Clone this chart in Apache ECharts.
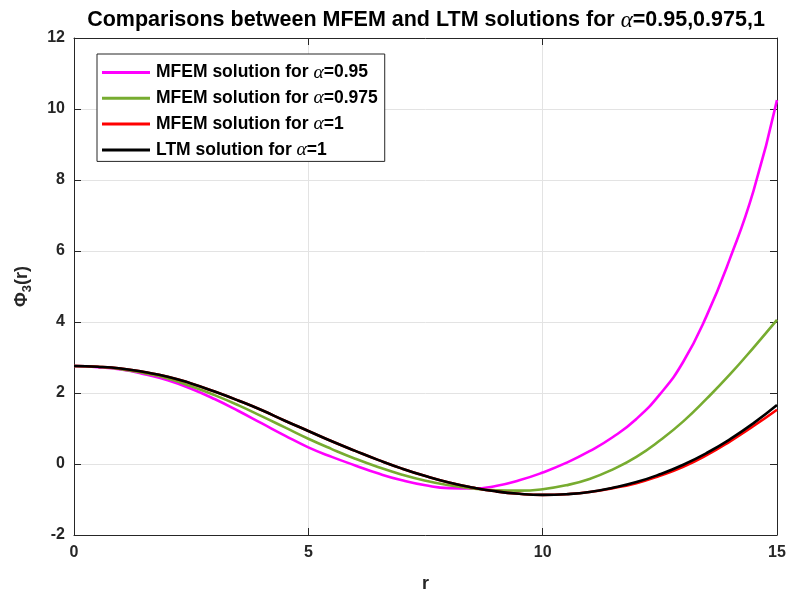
<!DOCTYPE html>
<html>
<head>
<meta charset="utf-8">
<script src="https://cdn.jsdelivr.net/npm/echarts@6/dist/echarts.min.js"></script>
<style>
  html, body { margin: 0; padding: 0; background: #ffffff; }
  #chart { width: 788px; height: 591px; }
</style>
</head>
<body>
<div id="chart"></div>
<script>
// Radial coordinate r
const r = [0, 0.5, 1, 1.5, 2, 2.5, 3, 3.5, 4, 4.5, 5, 5.5, 6, 6.5, 7, 7.5, 8, 8.5, 9, 9.5,
           10, 10.5, 11, 11.5, 12, 12.5, 13, 13.5, 14, 14.5, 15];

// Phi_3(r), MFEM, alpha = 0.95
const mfem095 = [2.76, 2.73, 2.66, 2.53, 2.36, 2.12, 1.83, 1.50, 1.15, 0.80, 0.47, 0.20, -0.04, -0.27, -0.46, -0.60,
                 -0.68, -0.69, -0.62, -0.46, -0.24, 0.03, 0.36, 0.76, 1.27, 1.96, 2.88, 4.18, 5.80, 7.70, 10.25];

// Phi_3(r), MFEM, alpha = 0.975
const mfem0975 = [2.76, 2.74, 2.67, 2.56, 2.41, 2.19, 1.94, 1.66, 1.35, 1.03, 0.71, 0.42, 0.15, -0.09, -0.30, -0.47,
                  -0.60, -0.69, -0.74, -0.75, -0.71, -0.60, -0.42, -0.15, 0.20, 0.66, 1.20, 1.84, 2.53, 3.28, 4.06];

// Phi_3(r), MFEM, alpha = 1
const mfem1 = [2.76, 2.74, 2.69, 2.59, 2.46, 2.27, 2.04, 1.79, 1.52, 1.22, 0.93, 0.64, 0.37, 0.11, -0.13, -0.34,
               -0.52, -0.66, -0.77, -0.84, -0.87, -0.85, -0.79, -0.68, -0.54, -0.33, -0.08, 0.25, 0.64, 1.07, 1.53];

// Phi_3(r), LTM, alpha = 1
const ltm1 = [2.76, 2.74, 2.69, 2.59, 2.46, 2.27, 2.04, 1.79, 1.52, 1.22, 0.93, 0.64, 0.37, 0.11, -0.13, -0.34,
              -0.52, -0.66, -0.77, -0.84, -0.87, -0.85, -0.79, -0.67, -0.51, -0.29, -0.02, 0.31, 0.70, 1.15, 1.66];

const seriesNames = [
  'MFEM solution for α=0.95',
  'MFEM solution for α=0.975',
  'MFEM solution for α=1',
  'LTM solution for α=1'
];
const seriesValues = [mfem095, mfem0975, mfem1, ltm1];
const seriesColors = ['#FF00FF', '#77AC30', '#FF0000', '#000000'];

const FONT = '"Liberation Sans", Arial, Helvetica, sans-serif';
const AXIS_COLOR = '#262626';
const alphaStyle = { fontFamily: '"Liberation Serif", "DejaVu Serif", serif', fontStyle: 'italic', fontWeight: 'normal' };

const chart = echarts.init(document.getElementById('chart'), null, { renderer: 'canvas' });

// Mirror axes on the top and right close the box, with inward ticks only
const boxAxisCommon = {
  axisLine: { show: true, onZero: false, lineStyle: { color: AXIS_COLOR, width: 1 } },
  axisTick: { show: true, inside: true, length: 7, lineStyle: { color: AXIS_COLOR, width: 1 } },
  axisLabel: { show: false },
  splitLine: { show: false }
};

chart.setOption({
  animation: false,
  backgroundColor: '#ffffff',
  title: {
    text: 'Comparisons between MFEM and LTM solutions for {a|α}=0.95,0.975,1',
    left: 421,
    textAlign: 'center',
    top: 4,
    textStyle: {
      fontFamily: FONT, fontWeight: 'bold', fontSize: 21.5, color: '#000000',
      rich: { a: Object.assign({ fontSize: 23, color: '#000000' }, alphaStyle) }
    }
  },
  legend: {
    orient: 'vertical',
    left: 97,
    top: 54,
    padding: [8.5, 7, 1.5, 5],
    itemGap: 5.8,
    itemWidth: 48,
    itemHeight: 3,
    icon: 'rect',
    borderColor: '#262626',
    borderWidth: 1,
    backgroundColor: '#ffffff',
    data: seriesNames,
    formatter: name => name.replace('α', '{a|α}'),
    textStyle: {
      fontFamily: FONT, fontWeight: 'bold', fontSize: 17.5, color: '#000000', lineHeight: 17,
      padding: [0, 0, 0, 1],
      rich: { a: Object.assign({ fontSize: 19.5, lineHeight: 17, color: '#000000' }, alphaStyle) }
    }
  },
  grid: { left: 74, right: 11, top: 38, bottom: 56, containLabel: false, outerBoundsMode: 'none' },
  xAxis: [
    {
      type: 'value', min: 0, max: 15, interval: 5,
      name: 'r', nameLocation: 'middle', nameGap: 40,
      nameTextStyle: { fontFamily: FONT, fontWeight: 'bold', fontSize: 18, color: '#262626' },
      axisLine: { show: true, onZero: false, lineStyle: { color: AXIS_COLOR, width: 1 } },
      axisTick: { show: true, inside: true, length: 7, lineStyle: { color: AXIS_COLOR } },
      axisLabel: { fontFamily: FONT, fontWeight: 'bold', fontSize: 16, color: '#262626', margin: 10 },
      splitLine: { show: true, lineStyle: { color: '#e3e3e3', width: 1 } }
    },
    Object.assign({ type: 'value', min: 0, max: 15, interval: 5, position: 'top' }, boxAxisCommon)
  ],
  yAxis: [
    {
      type: 'value', min: -2, max: 12, interval: 2,
      name: 'Φ{s|3}(r)', nameLocation: 'middle', nameGap: 40, nameRotate: 90,
      nameTextStyle: {
        fontFamily: FONT, fontWeight: 'bold', fontSize: 18, color: '#262626',
        rich: { s: { fontFamily: FONT, fontWeight: 'bold', fontSize: 13, color: '#262626', padding: [10, 0, 0, 0] } }
      },
      axisLine: { show: true, onZero: false, lineStyle: { color: AXIS_COLOR, width: 1 } },
      axisTick: { show: true, inside: true, length: 7, lineStyle: { color: AXIS_COLOR } },
      axisLabel: { fontFamily: FONT, fontWeight: 'bold', fontSize: 16, color: '#262626', margin: 9 },
      splitLine: { show: true, lineStyle: { color: '#e3e3e3', width: 1 } }
    },
    Object.assign({ type: 'value', min: -2, max: 12, interval: 2, position: 'right' }, boxAxisCommon)
  ],
  series: seriesNames.map((name, i) => ({
    name: name,
    type: 'line',
    xAxisIndex: 0,
    yAxisIndex: 0,
    smooth: true,
    symbol: 'none',
    z: 2 + i,
    color: seriesColors[i],
    lineStyle: { color: seriesColors[i], width: 2.6 },
    data: r.map((x, k) => [x, seriesValues[i][k]])
  }))
});
</script>
</body>
</html>
